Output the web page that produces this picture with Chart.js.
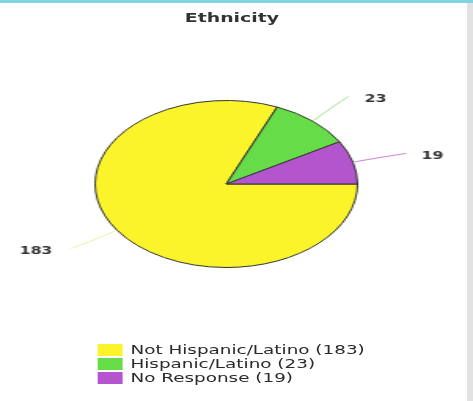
<!DOCTYPE html>
<html>
<head>
<meta charset="utf-8">
<script src="https://cdn.jsdelivr.net/npm/chart.js@4.4.0/dist/chart.umd.min.js"></script>
<style>
  html, body { margin: 0; padding: 0; background: #ffffff; }
  body { width: 473px; height: 401px; position: relative; overflow: hidden; }
  #topbar { position: absolute; left: 0; top: 0; width: 473px; height: 3px; background: #7fd4e3; }
  #rightbar { position: absolute; left: 467px; top: 3px; width: 6px; height: 398px; background: #e2e2e2; }
  #wrap { position: absolute; left: 0; top: 0; width: 301px; height: 401px;
          transform: scaleX(1.5714); transform-origin: 0 0; }
  #c { position: absolute; left: 0; top: 0; }
  #title { position: absolute; left: 97.6px; width: 100px; top: 11px; text-align: center;
           font-family: "DejaVu Sans", sans-serif; font-weight: bold; font-size: 12px;
           line-height: 14px; color: #333; }
  #legend { position: absolute; left: 62px; top: 343px; font-family: "DejaVu Sans", sans-serif;
            font-size: 11.7px; color: #2a2a2a; }
  .row { height: 14px; line-height: 14px; white-space: nowrap; display: flex; align-items: center; }
  .box { width: 16px; height: 12px; margin-right: 5px; flex: none; }
</style>
</head>
<body>
<div id="topbar"></div>
<div id="rightbar"></div>
<div id="wrap">
  <canvas id="c" width="301" height="401"></canvas>
  <div id="title"></div>
  <div id="legend"></div>
</div>
<script>
const chartTitle = "Ethnicity";
const categories = ["Not Hispanic/Latino", "Hispanic/Latino", "No Response"];
const counts = [183, 23, 19];
const sliceColors = ["#fcf42a", "#66dd48", "#b355cc"];
const lineColors = ["rgba(235,240,150,0.9)", "rgba(130,215,110,0.8)", "rgba(185,100,205,0.8)"];

const outLabels = {
  id: 'outLabels',
  afterDatasetsDraw(chart) {
    const ctx = chart.ctx;
    const meta = chart.getDatasetMeta(0);
    ctx.save();
    meta.data.forEach((arc, i) => {
      const mid = (arc.startAngle + arc.endAngle) / 2;
      const R = arc.outerRadius;
      const cx = arc.x, cy = arc.y;
      const cos = Math.cos(mid), sin = Math.sin(mid);
      const x0 = cx + cos * (R + 1), y0 = cy + sin * (R + 1);
      const xc = cx + cos * (R + 24), yc = cy + sin * (R + 24);
      const x1 = cx + cos * (R + 35), y1 = cy + sin * (R + 33);
      ctx.strokeStyle = lineColors[i];
      ctx.lineWidth = 1;
      ctx.beginPath();
      ctx.moveTo(x0, y0);
      ctx.quadraticCurveTo(xc, yc, x1, y1);
      ctx.stroke();
      ctx.fillStyle = '#333';
      ctx.font = 'bold 10px "DejaVu Sans", sans-serif';
      ctx.textBaseline = 'middle';
      const right = cos >= 0;
      ctx.textAlign = right ? 'left' : 'right';
      ctx.fillText(String(counts[i]), x1 + (right ? 10 : -12), y1 + 3);
    });
    ctx.restore();
  }
};

document.getElementById('title').textContent = chartTitle;

const chart = new Chart(document.getElementById('c'), {
  type: 'pie',
  data: {
    labels: categories,
    datasets: [{
      data: counts,
      backgroundColor: sliceColors,
      borderColor: '#333',
      borderWidth: 1,
      hoverOffset: 0
    }]
  },
  options: {
    responsive: false,
    animation: false,
    devicePixelRatio: 1,
    rotation: 90,
    layout: { padding: { top: 100, bottom: 133, left: 40, right: 53 } },
    plugins: {
      legend: { display: false },
      tooltip: { enabled: false },
      title: { display: false }
    }
  },
  plugins: [outLabels]
});

const legend = document.getElementById('legend');
categories.forEach((name, i) => {
  const row = document.createElement('div');
  row.className = 'row';
  const box = document.createElement('span');
  box.className = 'box';
  box.style.background = sliceColors[i];
  const txt = document.createElement('span');
  txt.textContent = name + ' (' + counts[i] + ')';
  row.appendChild(box);
  row.appendChild(txt);
  legend.appendChild(row);
});
</script>
</body>
</html>
